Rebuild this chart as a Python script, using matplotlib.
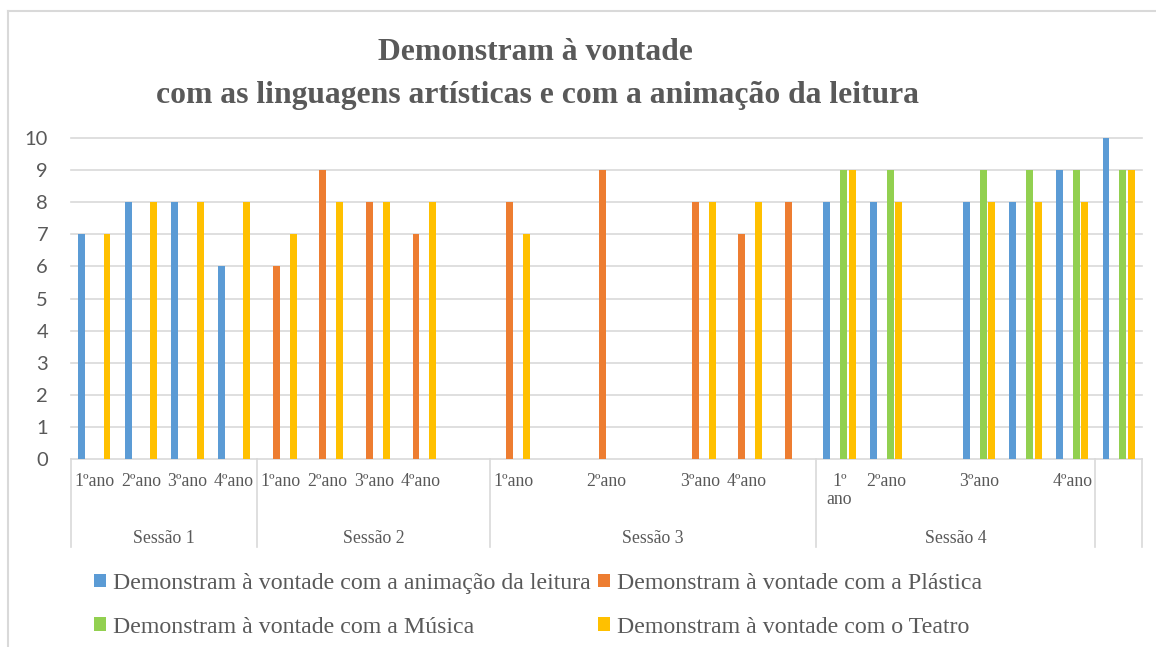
import matplotlib
matplotlib.use("Agg")
import matplotlib.pyplot as plt
from matplotlib.patches import Patch
from matplotlib.lines import Line2D
import numpy as np

# categories: 4 sessions + one unnamed column at the end
group_names = ["Sessão 1", "Sessão 2", "Sessão 3", "Sessão 4", ""]
group_sizes = [4, 5, 7, 6, 1]
year_labels = ["1ºano", "2ºano", "3ºano", "4ºano",
               "1ºano", "2ºano", "3ºano", "4ºano", "",
               "1ºano", "", "2ºano", "", "3ºano", "4ºano", "",
               "1º\nano", "2ºano", "", "3ºano", "", "4ºano",
               ""]

series_names = ["Demonstram à vontade com a animação da leitura",
                "Demonstram à vontade com a Plástica",
                "Demonstram à vontade com a Música",
                "Demonstram à vontade com o Teatro"]
colors = ["#5B9BD5", "#ED7D31", "#92D050", "#FFC000"]

leitura = [7, 8, 8, 6,  0, 0, 0, 0, 0,  0, 0, 0, 0, 0, 0, 0,  8, 8, 0, 8, 8, 9,  10]
plastica = [0, 0, 0, 0,  6, 9, 8, 7, 0,  8, 0, 9, 0, 8, 7, 8,  0, 0, 0, 0, 0, 0,  0]
musica = [0, 0, 0, 0,  0, 0, 0, 0, 0,  0, 0, 0, 0, 0, 0, 0,  9, 9, 0, 9, 9, 9,  9]
teatro = [7, 8, 8, 8,  7, 8, 8, 8, 0,  7, 0, 0, 0, 8, 8, 0,  9, 8, 0, 8, 8, 8,  9]
values = [leitura, plastica, musica, teatro]

grey = "#595959"
line_grey = "#d9d9d9"
W, H = 1156, 647

fig = plt.figure(figsize=(W / 100, H / 100), dpi=100)
ax = fig.add_axes([71 / W, 1 - 459 / H, (1142 - 71) / W, (459 - 138) / H])

n = len(year_labels)
x = np.arange(n) + 0.5
slot = 0.182
for k in range(4):
    ax.bar(x + (k - 1.5) * slot, values[k], width=0.15, color=colors[k],
           linewidth=0, zorder=3)

ax.set_xlim(0, n)
ax.set_ylim(0, 10)
ax.set_yticks(range(11))
ax.set_xticks([])
ax.grid(axis="y", color=line_grey, linewidth=1.2)
ax.set_axisbelow(True)
for gl in ax.get_ygridlines():
    gl.set_clip_on(False)
for s in ax.spines.values():
    s.set_visible(False)
ax.tick_params(axis="y", length=0, pad=16.5, labelsize=14.5, labelcolor=grey)
for t in ax.get_yticklabels():
    t.set_fontfamily("Lato")

# year labels under each category
for i, lab in enumerate(year_labels):
    ax.annotate(lab, xy=(x[i], 0), xycoords=("data", "axes fraction"),
                xytext=(0, -10), textcoords="offset points",
                ha="center", va="top", fontsize=12.8, family="Liberation Serif",
                color=grey, linespacing=1.1)

# session labels and separators
bounds = np.concatenate([[0], np.cumsum(group_sizes)])
sep_depth = 88 / (459 - 138)
for b in bounds:
    ax.plot([b, b], [0, -sep_depth], transform=ax.get_xaxis_transform(),
            clip_on=False, color=line_grey, linewidth=1.2)
for g, name in enumerate(group_names):
    mid = (bounds[g] + bounds[g + 1]) / 2
    ax.annotate(name, xy=(mid, 0), xycoords=("data", "axes fraction"),
                xytext=(0, -57), textcoords="offset points",
                ha="center", va="center", fontsize=12.8, family="Liberation Serif",
                color=grey)

# title
fig.text(535 / W, 1 - 52 / H, "Demonstram à vontade", ha="center", va="center",
         fontsize=22.8, weight="bold", family="Liberation Serif", color=grey)
fig.text(538 / W, 1 - 96 / H, "com as linguagens artísticas e com a animação da leitura",
         ha="center", va="center", fontsize=22.8, weight="bold",
         family="Liberation Serif", color=grey)

# legend: row order leitura/Plástica, Música/Teatro
order = [0, 2, 1, 3]
handles = [Patch(facecolor=colors[k], edgecolor="none") for k in order]
fig.legend(handles, [series_names[k] for k in order], ncol=2,
           loc="upper left", bbox_to_anchor=(94 / W, 1 - 573 / H),
           frameon=False, prop={"family": "Liberation Serif", "size": 17.2},
           labelcolor=grey, handlelength=0.5, handleheight=0.5,
           handletextpad=0.3, columnspacing=0.3, labelspacing=0.95,
           borderpad=0, borderaxespad=0)

# chart frame
fig.add_artist(Line2D([8 / W, 8 / W], [0, 1 - 11 / H], color=line_grey, linewidth=1.5))
fig.add_artist(Line2D([8 / W, 1], [1 - 11 / H, 1 - 11 / H], color=line_grey, linewidth=1.5))

fig.savefig("out.png", dpi=100)
